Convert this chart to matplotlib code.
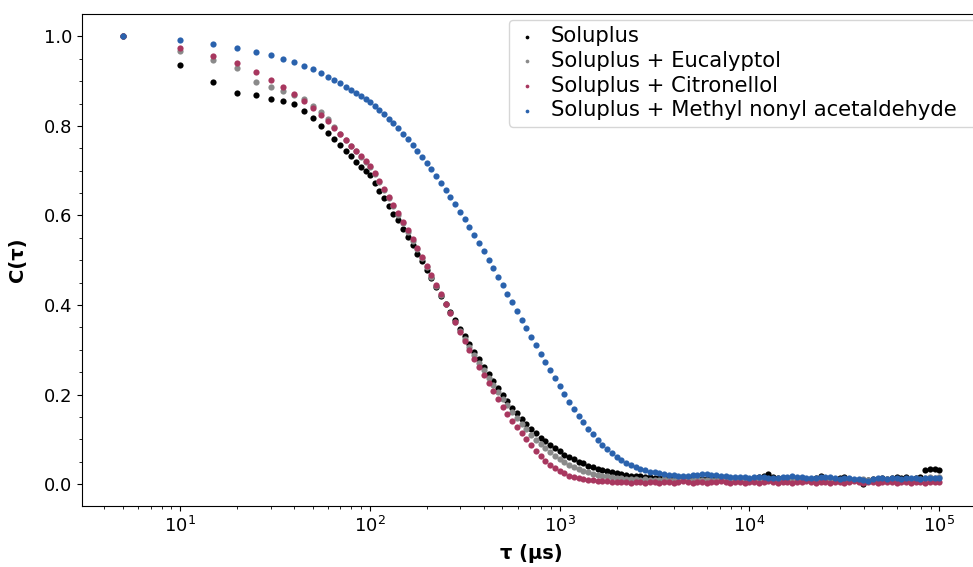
import matplotlib
matplotlib.use("Agg")
import matplotlib.pyplot as plt
from matplotlib.ticker import AutoMinorLocator

plt.rcParams["font.family"] = ["DejaVu Sans"]

# lag times (µs): linear start, then ~40 channels per decade
tau_lin = [5, 10, 15, 20, 25, 30, 35, 40, 45, 50, 55, 60, 65, 70, 75, 80, 85, 90, 95]
tau_d2 = [100, 106, 112, 119, 126, 133, 141, 150, 158, 168, 178, 188, 200, 211, 224, 237,
          251, 266, 282, 299, 316, 335, 355, 376, 398, 422, 447, 473, 501, 531, 562, 596,
          631, 668, 708, 750, 794, 841, 891, 944]
tau_d3 = [1000, 1059, 1122, 1189, 1259, 1334, 1413, 1496, 1585, 1679, 1778, 1884, 1995,
          2113, 2239, 2371, 2512, 2661, 2818, 2985, 3162, 3350, 3548, 3758, 3981, 4217,
          4467, 4732, 5012, 5309, 5623, 5957, 6310, 6683, 7079, 7499, 7943, 8414, 8913, 9441]
tau_d4 = [10000, 10593, 11220, 11885, 12589, 13335, 14125, 14962, 15849, 16788, 17783,
          18836, 19953, 21135, 22387, 23714, 25119, 26607, 28184, 29854, 31623, 33497,
          35481, 37584, 39811, 42170, 44668, 47315, 50119, 53088, 56234, 59566, 63096,
          66834, 70795, 74989, 79433, 84140, 89125, 94406, 100000]
tau = tau_lin + tau_d2 + tau_d3 + tau_d4

soluplus = [
    1.000, 0.935, 0.897, 0.874, 0.868, 0.861, 0.855, 0.848, 0.834, 0.817,
    0.800, 0.785, 0.771, 0.757, 0.744, 0.732, 0.720, 0.709, 0.699,
    0.690, 0.672, 0.655, 0.640, 0.621, 0.604, 0.589, 0.569, 0.552, 0.533,
    0.515, 0.498, 0.478, 0.461, 0.440, 0.421, 0.403, 0.384, 0.366, 0.347,
    0.331, 0.313, 0.296, 0.280, 0.262, 0.246, 0.231, 0.214, 0.200, 0.185,
    0.171, 0.159, 0.145, 0.134, 0.124, 0.113, 0.104, 0.096, 0.087, 0.080,
    0.073, 0.066, 0.061, 0.055, 0.050, 0.046, 0.041, 0.038, 0.034, 0.031,
    0.029, 0.026, 0.024, 0.022, 0.021, 0.019, 0.018, 0.017, 0.016, 0.015,
    0.014, 0.013, 0.014, 0.012, 0.013, 0.011, 0.012, 0.013, 0.011, 0.010,
    0.012, 0.011, 0.013, 0.012, 0.010, 0.011, 0.012, 0.010, 0.011, 0.012,
    0.012, 0.013, 0.015, 0.019, 0.022, 0.016, 0.013, 0.012, 0.011, 0.013,
    0.012, 0.014, 0.012, 0.011, 0.013, 0.018, 0.014, 0.012, 0.011, 0.013,
    0.015, 0.012, 0.010, 0.007, 0.001, 0.009, 0.012, 0.011, 0.013, 0.012,
    0.014, 0.016, 0.013, 0.015, 0.012, 0.014, 0.016, 0.031, 0.034, 0.033, 0.032,
]
eucalyptol = [
    1.000, 0.968, 0.948, 0.930, 0.897, 0.888, 0.877, 0.868, 0.860, 0.845,
    0.832, 0.815, 0.798, 0.782, 0.768, 0.755, 0.743, 0.731, 0.720,
    0.709, 0.692, 0.675, 0.657, 0.639, 0.621, 0.602, 0.583, 0.564, 0.544,
    0.524, 0.504, 0.484, 0.463, 0.443, 0.422, 0.402, 0.382, 0.362, 0.343,
    0.324, 0.306, 0.288, 0.271, 0.254, 0.238, 0.222, 0.206, 0.191, 0.176,
    0.162, 0.148, 0.135, 0.122, 0.110, 0.099, 0.089, 0.080, 0.071, 0.063,
    0.056, 0.049, 0.043, 0.038, 0.033, 0.029, 0.026, 0.023, 0.021, 0.019,
    0.017, 0.016, 0.014, 0.013, 0.012, 0.012, 0.011, 0.010, 0.011, 0.009,
    0.010, 0.009, 0.011, 0.008, 0.010, 0.009, 0.010, 0.008, 0.009, 0.011,
    0.009, 0.008, 0.010, 0.009, 0.011, 0.008, 0.009, 0.010, 0.008, 0.009,
    0.010, 0.009, 0.011, 0.008, 0.010, 0.009, 0.012, 0.010, 0.008, 0.009,
    0.011, 0.010, 0.008, 0.009, 0.010, 0.011, 0.009, 0.008, 0.010, 0.009,
    0.011, 0.008, 0.010, 0.009, 0.012, 0.010, 0.008, 0.010, 0.009, 0.011,
    0.010, 0.009, 0.008, 0.010, 0.011, 0.009, 0.012, 0.014, 0.015, 0.014, 0.015,
]
citronellol = [
    1.000, 0.975, 0.956, 0.940, 0.920, 0.902, 0.888, 0.872, 0.855, 0.840,
    0.824, 0.810, 0.795, 0.781, 0.768, 0.756, 0.744, 0.733, 0.722,
    0.711, 0.695, 0.678, 0.660, 0.642, 0.624, 0.605, 0.586, 0.567, 0.547,
    0.527, 0.507, 0.487, 0.466, 0.445, 0.424, 0.403, 0.382, 0.361, 0.340,
    0.319, 0.299, 0.280, 0.261, 0.243, 0.225, 0.207, 0.190, 0.173, 0.157,
    0.142, 0.127, 0.113, 0.100, 0.088, 0.074, 0.062, 0.052, 0.043, 0.035,
    0.029, 0.024, 0.019, 0.016, 0.013, 0.011, 0.009, 0.008, 0.007, 0.006,
    0.006, 0.005, 0.004, 0.005, 0.004, 0.003, 0.005, 0.004, 0.003, 0.004,
    0.005, 0.003, 0.004, 0.005, 0.003, 0.004, 0.006, 0.004, 0.003, 0.005,
    0.004, 0.003, 0.005, 0.004, 0.006, 0.004, 0.003, 0.005, 0.004, 0.003,
    0.004, 0.005, 0.003, 0.004, 0.006, 0.004, 0.003, 0.005, 0.004, 0.003,
    0.005, 0.004, 0.006, 0.004, 0.003, 0.005, 0.004, 0.003, 0.004, 0.005,
    0.003, 0.004, 0.006, 0.004, 0.003, 0.004, 0.005, 0.003, 0.004, 0.005,
    0.004, 0.003, 0.005, 0.004, 0.003, 0.005, 0.004, 0.003, 0.005, 0.004, 0.004,
]
methyl_nonyl = [
    1.000, 0.992, 0.984, 0.975, 0.966, 0.958, 0.950, 0.942, 0.934, 0.926,
    0.918, 0.910, 0.902, 0.895, 0.888, 0.881, 0.874, 0.867, 0.860,
    0.853, 0.844, 0.835, 0.826, 0.816, 0.806, 0.795, 0.783, 0.771, 0.758,
    0.745, 0.731, 0.717, 0.703, 0.688, 0.673, 0.657, 0.641, 0.625, 0.608,
    0.591, 0.574, 0.556, 0.538, 0.520, 0.501, 0.482, 0.463, 0.444, 0.425,
    0.406, 0.387, 0.367, 0.348, 0.329, 0.310, 0.291, 0.272, 0.254, 0.236,
    0.218, 0.201, 0.184, 0.168, 0.153, 0.138, 0.124, 0.111, 0.099, 0.088,
    0.078, 0.069, 0.061, 0.054, 0.048, 0.043, 0.038, 0.034, 0.031, 0.028,
    0.026, 0.024, 0.022, 0.021, 0.020, 0.019, 0.019, 0.019, 0.020, 0.021,
    0.022, 0.022, 0.021, 0.020, 0.018, 0.017, 0.016, 0.015, 0.016, 0.015,
    0.014, 0.015, 0.016, 0.015, 0.014, 0.013, 0.014, 0.015, 0.016, 0.017,
    0.016, 0.015, 0.014, 0.013, 0.014, 0.015, 0.016, 0.015, 0.013, 0.012,
    0.013, 0.014, 0.012, 0.011, 0.009, 0.006, 0.011, 0.013, 0.014, 0.012,
    0.013, 0.014, 0.012, 0.013, 0.014, 0.013, 0.012, 0.013, 0.014, 0.013, 0.013,
]

labels = ["Soluplus", "Soluplus + Eucalyptol", "Soluplus + Citronellol",
          "Soluplus + Methyl nonyl acetaldehyde"]
colors = ["#000000", "#8a8a8a", "#a8375f", "#2a62ad"]
series = [soluplus, eucalyptol, citronellol, methyl_nonyl]

fig = plt.figure(figsize=(9.73, 5.67), dpi=100)
ax = fig.add_axes([0.0843, 0.1076, 0.9230, 0.8677])

for ys, lab, c in zip(series, labels, colors):
    ax.scatter(tau, ys, s=20, color=c, linewidths=0, label=lab)

ax.set_xscale("log")
ax.yaxis.set_minor_locator(AutoMinorLocator(4))
ax.tick_params(axis="both", which="major", labelsize=13)
ax.set_xlabel("τ (μs)", fontsize=14, fontweight="bold", labelpad=6)
ax.set_ylabel("C(τ)", fontsize=14, fontweight="bold", labelpad=12)

# legend box runs off the right edge, as in the cropped original
ax.legend(loc="upper left", mode="expand", bbox_to_anchor=(0.523, 0.5, 0.49, 0.4647),
          bbox_transform=fig.transFigure, borderaxespad=0, fontsize=15.2,
          markerscale=0.6, labelspacing=0.22, handletextpad=0.59, handlelength=1.1,
          borderpad=0.3)

fig.savefig("out.png", dpi=100)
